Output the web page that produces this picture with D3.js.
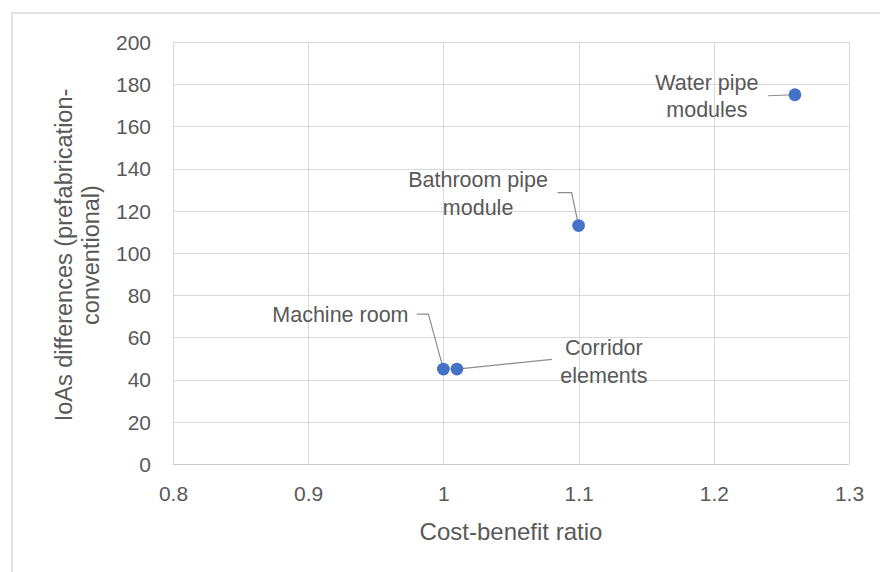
<!DOCTYPE html>
<html>
<head>
<meta charset="utf-8">
<script src="https://cdn.jsdelivr.net/npm/d3@7"></script>
<style>
  html, body { margin: 0; padding: 0; background: #ffffff; }
  svg { display: block; }
  text { font-family: "Liberation Sans", Arial, sans-serif; fill: #595959; }
</style>
</head>
<body>
<svg id="chart" width="880" height="572"></svg>
<script>
// ---- data ----
const names = ["Water pipe modules", "Bathroom pipe module", "Machine room", "Corridor elements"];
const costBenefit = [1.26, 1.10, 1.00, 1.01];
const ioaDiff = [175, 113, 45, 45];
const xTicks = [0.8, 0.9, 1.0, 1.1, 1.2, 1.3];
const yTicks = [0, 20, 40, 60, 80, 100, 120, 140, 160, 180, 200];
const xTitle = "Cost-benefit ratio";
const yTitleLines = ["IoAs differences (prefabrication-", "conventional)"];
const labelLines = [["Water pipe", "modules"], ["Bathroom pipe", "module"], ["Machine room"], ["Corridor", "elements"]];

// ---- layout (label placement relative to point, px) ----
const labelLayout = [
  { dx: -88, dy: -4.4, lh: 26.6, leader: [[-27, 1], [0, 0]] },
  { dx: -100.5, dy: -38.3, lh: 27.7, leader: [[-21, -33], [-7, -33], [0, 0]] },
  { dx: -103, dy: -47.3, lh: 27, leader: [[-26.5, -55], [-15, -55], [0, 0]] },
  { dx: 147, dy: -14, lh: 27.7, leader: [[95, -9.7], [0, 0]] }
];

const svg = d3.select("#chart");
const plot = { left: 173, right: 849, top: 42, bottom: 464 };

const x = d3.scaleLinear().domain([0.8, 1.3]).range([plot.left, plot.right]);
const y = d3.scaleLinear().domain([0, 200]).range([plot.bottom, plot.top]);

// outer chart border
svg.append("rect")
  .attr("x", 12).attr("y", 13).attr("width", 900).attr("height", 600)
  .attr("fill", "none").attr("stroke", "#d9d9d9").attr("stroke-width", 1.5);

// gridlines
svg.append("g").selectAll("line").data(yTicks).join("line")
  .attr("x1", plot.left).attr("x2", plot.right)
  .attr("y1", d => Math.round(y(d)) + 0.5).attr("y2", d => Math.round(y(d)) + 0.5)
  .attr("stroke", d => d === 0 ? "#c8c8c8" : "#d9d9d9").attr("stroke-width", 1);
svg.append("g").selectAll("line").data(xTicks).join("line")
  .attr("y1", plot.top).attr("y2", plot.bottom)
  .attr("x1", d => Math.round(x(d)) + 0.5).attr("x2", d => Math.round(x(d)) + 0.5)
  .attr("stroke", "#d9d9d9").attr("stroke-width", 1);

// axes via d3 (domain/ticks hidden, labels styled)
const xAxis = svg.append("g").attr("transform", `translate(0,${plot.bottom})`)
  .call(d3.axisBottom(x).tickValues(xTicks).tickSize(0).tickPadding(0).tickFormat(d => d3.format("")(+d.toFixed(1))));
xAxis.select(".domain").remove();
xAxis.selectAll("text").attr("font-size", 21).attr("fill", "#595959")
  .attr("font-family", "Liberation Sans, Arial, sans-serif")
  .attr("dy", null).attr("y", 37);

const yAxis = svg.append("g").attr("transform", `translate(${plot.left},0)`)
  .call(d3.axisLeft(y).tickValues(yTicks).tickSize(0).tickPadding(0));
yAxis.select(".domain").remove();
yAxis.selectAll("text").attr("font-size", 21).attr("fill", "#595959")
  .attr("font-family", "Liberation Sans, Arial, sans-serif")
  .attr("dy", null).attr("x", -22).attr("y", 7.3);

// axis titles
svg.append("text").attr("x", (plot.left + plot.right) / 2).attr("y", 540)
  .attr("text-anchor", "middle").attr("font-size", 24).text(xTitle);

const yt = svg.append("text").attr("transform", "translate(0,255) rotate(-90)")
  .attr("text-anchor", "middle").attr("font-size", 23.5);
yt.selectAll("tspan").data(yTitleLines).join("tspan")
  .attr("x", 0).attr("y", (d, i) => 72 + i * 27).text(d => d);

// data
const pts = names.map((n, i) => ({ name: n, cx: x(costBenefit[i]), cy: y(ioaDiff[i]), lines: labelLines[i], lay: labelLayout[i] }));

// leader lines
svg.append("g").selectAll("path").data(pts).join("path")
  .attr("d", p => d3.line()(p.lay.leader.map(([dx, dy]) => [p.cx + dx, p.cy + dy])))
  .attr("fill", "none").attr("stroke", "#8c8c8c").attr("stroke-width", 1.2);

// points
svg.append("g").selectAll("circle").data(pts).join("circle")
  .attr("cx", p => p.cx).attr("cy", p => p.cy).attr("r", 6.4)
  .attr("fill", "#4472c4");

// data labels
const lbl = svg.append("g").selectAll("text").data(pts).join("text")
  .attr("text-anchor", "middle").attr("font-size", 21.5);
lbl.selectAll("tspan").data(p => p.lines.map((t, j) => ({ t, j, p }))).join("tspan")
  .attr("x", d => d.p.cx + d.p.lay.dx)
  .attr("y", d => d.p.cy + d.p.lay.dy + d.j * d.p.lay.lh)
  .text(d => d.t);
</script>
</body>
</html>
